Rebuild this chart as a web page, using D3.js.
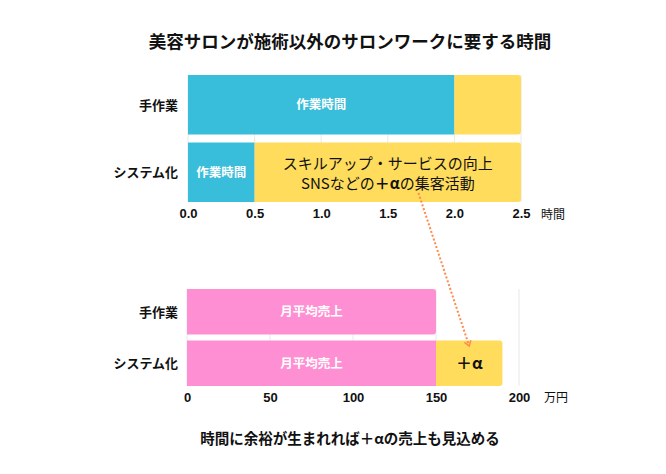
<!DOCTYPE html>
<html>
<meta charset="utf-8">
<style>
  body { margin: 0; background: #fff; }
  text { font-family: "Noto Sans CJK JP", "Liberation Sans", sans-serif; }
  .tick text { font-family: "Liberation Sans", "Noto Sans CJK JP", sans-serif; font-weight: bold; font-size: 13px; fill: #111; }
</style>
<body>
<script src="https://d3js.org/d3.v7.min.js"></script>
<script>

// data
var categories = ["手作業", "システム化"];
var workHours = [2.0, 0.5];
var totalHours = [2.5, 2.5];
var sales = [150, 150];
var plusAlpha = [0, 40];
var hourTicks = [0, 0.5, 1.0, 1.5, 2.0, 2.5];
var salesTicks = [0, 50, 100, 150, 200];

var width = 666, height = 474;
var blue = "#38bddb", yellow = "#ffdc5c", pink = "#ff8fd3";

var svg = d3.select("body").append("svg")
  .attr("width", width)
  .attr("height", height);

// scales
var xTop = d3.scaleLinear().domain([0, 2.5]).range([188, 521]);
var yTop = d3.scaleBand().domain(categories).range([75, 202]).paddingInner(0.12);
var xBot = d3.scaleLinear().domain([0, 200]).range([187, 519]);
var yBot = d3.scaleBand().domain(categories).range([289, 386]).paddingInner(0.12);

// bar with optional rounded right end
function barPath(x0, x1, y, h, r) {
  if (!r) return "M" + x0 + "," + y + "H" + x1 + "V" + (y + h) + "H" + x0 + "Z";
  return "M" + x0 + "," + y + "H" + (x1 - r) + "Q" + x1 + "," + y + " " + x1 + "," + (y + r)
    + "V" + (y + h - r) + "Q" + x1 + "," + (y + h) + " " + (x1 - r) + "," + (y + h)
    + "H" + x0 + "Z";
}

// title
svg.append("text")
  .attr("x", 350).attr("y", 48)
  .attr("text-anchor", "middle")
  .style("font-size", "17.5px").style("font-weight", "bold").style("fill", "#111")
  .text("美容サロンが施術以外のサロンワークに要する時間");

// ---------- top chart ----------
var gTop = svg.append("g");

gTop.append("g").selectAll("line")
  .data(hourTicks).enter().append("line")
  .attr("x1", function(d) { return xTop(d); }).attr("x2", function(d) { return xTop(d); })
  .attr("y1", 75).attr("y2", 202)
  .style("stroke", "#e8e8e8").style("stroke-width", 1);

categories.forEach(function(c, i) {
  var y = yTop(c), h = yTop.bandwidth();
  gTop.append("path")
    .attr("d", barPath(xTop(0), xTop(workHours[i]), y, h, 0))
    .style("fill", blue);
  gTop.append("path")
    .attr("d", barPath(xTop(workHours[i]), xTop(totalHours[i]), y, h, 3))
    .style("fill", yellow);
  gTop.append("text")
    .attr("x", xTop(workHours[i] / 2)).attr("y", y + h / 2 + 4.5)
    .attr("text-anchor", "middle")
    .style("font-size", "12.5px").style("font-weight", "bold").style("fill", "#fff")
    .text("作業時間");
});

var axTop = gTop.append("g")
  .attr("transform", "translate(0,202)")
  .call(d3.axisBottom(xTop).tickValues(hourTicks).tickFormat(d3.format(".1f")).tickSize(0).tickPadding(7));
axTop.select(".domain").remove();

gTop.append("g").selectAll("text")
  .data(categories).enter().append("text")
  .attr("x", 178).attr("y", function(d) { return yTop(d) + yTop.bandwidth() / 2 + 5; })
  .attr("text-anchor", "end")
  .style("font-size", "13px").style("font-weight", "bold").style("fill", "#111")
  .text(function(d) { return d; });

gTop.append("text")
  .attr("x", 541).attr("y", 219)
  .style("font-size", "12px").style("fill", "#111")
  .text("時間");

// text in the yellow part of system bar
var midX = xTop((workHours[1] + totalHours[1]) / 2);
var yy = yTop(categories[1]);
var t = gTop.append("text")
  .attr("text-anchor", "middle")
  .style("font-size", "15px").style("fill", "#111");
t.append("tspan").attr("x", midX).attr("y", yy + 26).text("スキルアップ・サービスの向上");
var l2 = t.append("tspan").attr("x", midX).attr("y", yy + 46);
l2.append("tspan").text("SNSなどの");
l2.append("tspan").style("font-weight", "bold").text("＋α");
l2.append("tspan").text("の集客活動");

// ---------- bottom chart ----------
var gBot = svg.append("g");

gBot.append("g").selectAll("line")
  .data(salesTicks).enter().append("line")
  .attr("x1", function(d) { return xBot(d); }).attr("x2", function(d) { return xBot(d); })
  .attr("y1", 289).attr("y2", 386)
  .style("stroke", "#e8e8e8").style("stroke-width", 1);

categories.forEach(function(c, i) {
  var y = yBot(c), h = yBot.bandwidth();
  var hasAlpha = plusAlpha[i] > 0;
  gBot.append("path")
    .attr("d", barPath(xBot(0), xBot(sales[i]), y, h, hasAlpha ? 0 : 3))
    .style("fill", pink);
  gBot.append("text")
    .attr("x", xBot(sales[i] / 2)).attr("y", y + h / 2 + 4.5)
    .attr("text-anchor", "middle")
    .style("font-size", "12.5px").style("font-weight", "bold").style("fill", "#fff")
    .text("月平均売上");
  if (hasAlpha) {
    gBot.append("path")
      .attr("d", barPath(xBot(sales[i]), xBot(sales[i] + plusAlpha[i]), y, h, 3))
      .style("fill", yellow);
    gBot.append("text")
      .attr("x", xBot(sales[i] + plusAlpha[i] / 2)).attr("y", y + h / 2 + 6)
      .attr("text-anchor", "middle")
      .style("font-size", "16px").style("font-weight", "bold").style("fill", "#111")
      .text("＋α");
  }
});

var axBot = gBot.append("g")
  .attr("transform", "translate(0,386)")
  .call(d3.axisBottom(xBot).tickValues(salesTicks).tickSize(0).tickPadding(7));
axBot.select(".domain").remove();

gBot.append("g").selectAll("text")
  .data(categories).enter().append("text")
  .attr("x", 178).attr("y", function(d) { return yBot(d) + yBot.bandwidth() / 2 + 5; })
  .attr("text-anchor", "end")
  .style("font-size", "13px").style("font-weight", "bold").style("fill", "#111")
  .text(function(d) { return d; });

gBot.append("text")
  .attr("x", 544).attr("y", 402)
  .style("font-size", "12px").style("fill", "#111")
  .text("万円");

// dotted arrow from the +α activities to the +α sales
var ax0 = xTop(1.73), ay0 = 193, ax1 = xBot(170), ay1 = 346;
svg.append("line")
  .attr("x1", ax0).attr("y1", ay0).attr("x2", ax1).attr("y2", ay1)
  .style("stroke", "#ff8a4c").style("stroke-width", 2).style("stroke-dasharray", "2,2");
var ang = Math.atan2(ay1 - ay0, ax1 - ax0);
var hl = 6;
svg.append("path")
  .attr("d", "M" + (ax1 - hl * Math.cos(ang - 0.6)) + "," + (ay1 - hl * Math.sin(ang - 0.6))
    + "L" + ax1 + "," + ay1
    + "L" + (ax1 - hl * Math.cos(ang + 0.6)) + "," + (ay1 - hl * Math.sin(ang + 0.6)))
  .style("fill", "none").style("stroke", "#ff8a4c").style("stroke-width", 1.5);

// footer
svg.append("text")
  .attr("x", 350).attr("y", 444)
  .attr("text-anchor", "middle")
  .style("font-size", "14.5px").style("font-weight", "bold").style("fill", "#111")
  .text("時間に余裕が生まれれば＋αの売上も見込める");

</script>
</body>
</html>
